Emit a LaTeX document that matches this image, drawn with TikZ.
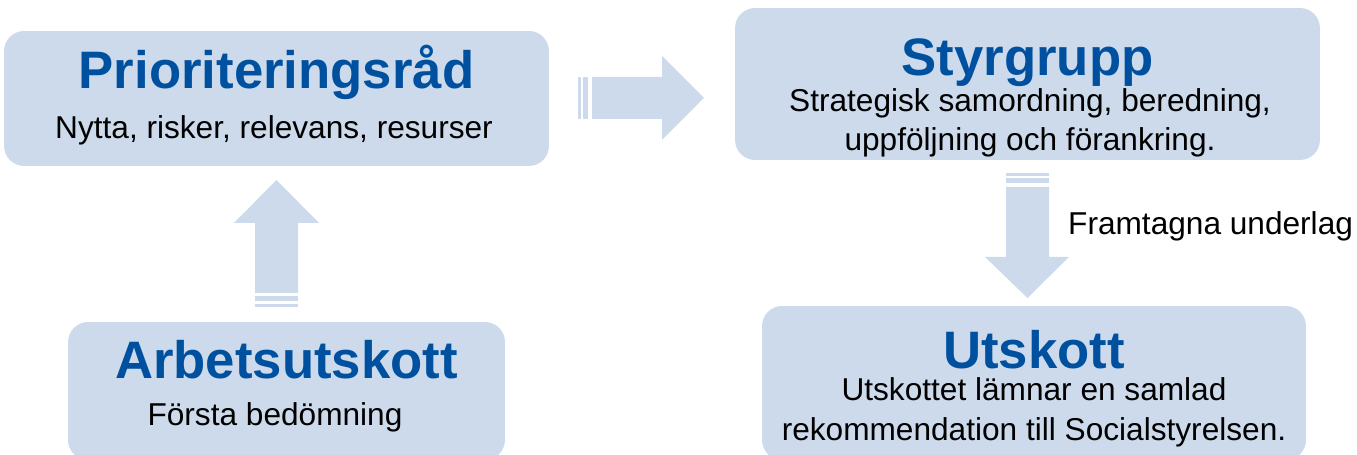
\documentclass[tikz,border=0pt]{standalone}
\usepackage{fontspec}
\setmainfont{Liberation Sans}
\definecolor{boxblue}{HTML}{CCDAEB}
\definecolor{titleblue}{HTML}{0050A0}

\tikzset{
  box/.style={fill=boxblue, rounded corners=0.4cm, inner sep=0pt},
  title/.style={text=titleblue, font=\fontsize{30}{30}\selectfont\bfseries, anchor=base},
  txt/.style={font=\fontsize{18}{18}\selectfont, anchor=base},
}

\begin{document}
\begin{tikzpicture}[x=0.02cm, y=-0.02cm]
    \useasboundingbox (0,0) rectangle (1357,455);
    \clip (0,0) rectangle (1357,455);

    % boxes
    \node[box, minimum width=10.9cm, minimum height=2.7cm] (prio) at (276.5,98.5) {};
    \node[box, minimum width=11.7cm, minimum height=3.04cm] (styr) at (1027.5,84) {};
    \node[box, minimum width=8.74cm, minimum height=2.76cm] (arb) at (286.5,391) {};
    \node[box, minimum width=10.88cm, minimum height=3.08cm] (utsk) at (1034,383) {};

    % texts
    \node[title] (prio-t) at (276.5,89) {Prioriteringsråd};
    \node[txt] (prio-s) at (274,139) {Nytta, risker, relevans, resurser};
    \node[title] (styr-t) at (1027.5,76) {Styrgrupp};
    \node[txt] (styr-s1) at (1030,112) {Strategisk samordning, beredning,};
    \node[txt] (styr-s2) at (1030,151) {uppföljning och förankring.};
    \node[title] (arb-t) at (286.5,379) {Arbetsutskott};
    \node[txt] (arb-s) at (275,426) {Första bedömning};
    \node[title] (utsk-t) at (1034,369) {Utskott};
    \node[txt] (utsk-s1) at (1034,401) {Utskottet lämnar en samlad};
    \node[txt] (utsk-s2) at (1034,441) {rekommendation till Socialstyrelsen.};
    \node[txt, anchor=base west] (lbl) at (1062,235) {Framtagna underlag};

    % arrow: prioriteringsråd -> styrgrupp
    \fill[boxblue] (578,77) rectangle (581,119);
    \fill[boxblue] (583,77) rectangle (588,119);
    \fill[boxblue] (592,77) -- (662,77) -- (662,56) -- (704,98) -- (662,140) -- (662,119) -- (592,119) -- cycle;

    % arrow: arbetsutskott -> prioriteringsråd
    \fill[boxblue] (255,304) rectangle (298,307);
    \fill[boxblue] (255,296) rectangle (298,301);
    \fill[boxblue] (255,293) -- (255,223) -- (234,223) -- (276.5,180) -- (319,223) -- (298,223) -- (298,293) -- cycle;

    % arrow: styrgrupp -> utskott
    \fill[boxblue] (1006,173) rectangle (1049,176);
    \fill[boxblue] (1006,178) rectangle (1049,183);
    \fill[boxblue] (1006,187) -- (1006,257) -- (985,257) -- (1027.5,298) -- (1069,257) -- (1049,257) -- (1049,187) -- cycle;
\end{tikzpicture}
\end{document}
